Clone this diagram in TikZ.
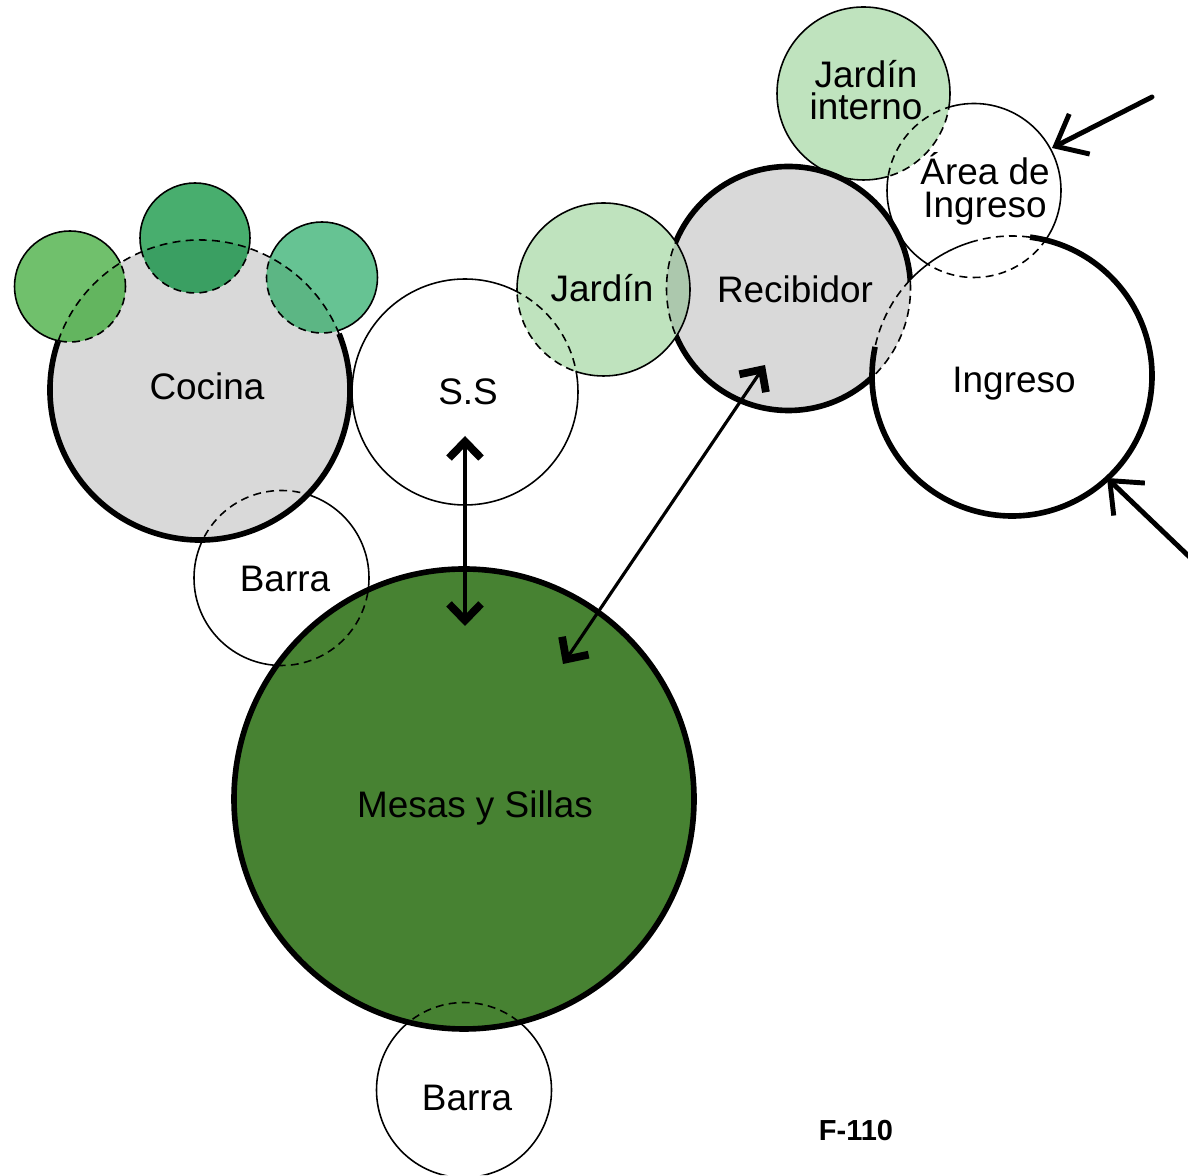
\documentclass[tikz,border=0pt]{standalone}
\usepackage{fontspec}
\setmainfont{Liberation Sans}
\usepackage{tikz}
\usetikzlibrary{arrows.meta}
\usepackage{xcolor}
\definecolor{mesagreen}{RGB}{71,130,50}
\definecolor{lightgreen}{RGB}{191,227,190}
\definecolor{lensgreen}{RGB}{172,200,173}
\definecolor{vleft}{RGB}{112,192,108}
\definecolor{vleftd}{RGB}{99,181,95}
\definecolor{vmid}{RGB}{72,174,110}
\definecolor{vmidd}{RGB}{58,159,98}
\definecolor{vright}{RGB}{102,195,147}
\definecolor{vrightd}{RGB}{92,182,132}
% marco recorrido en sentido horario, para recortar por fuera de los circulos
\newcommand{\outframe}{(0,0) -- (0,23.5) -- (23.76,23.5) -- (23.76,0) -- cycle}

\begin{document}
\begin{tikzpicture}[>={Straight Barb[length=3.3mm,width=6.4mm,line width=4.4pt 0]},
  thickline/.style={line width=3.2pt},
  thinline/.style={line width=0.9pt},
  dashline/.style={line width=0.9pt,dash pattern=on 4.5pt off 3pt},
  lbl/.style={font=\fontsize{21}{18.5}\selectfont,align=center,inner sep=0pt},
  dblarrow/.style={line width=1.8pt,<->},
  inarrow/.style={line width=2.8pt,line cap=round,-{Straight Barb[length=5.4mm,width=9mm]}}]
\useasboundingbox (0,0) rectangle (23.76,23.5);
\coordinate (cocina) at (4.00,15.70);
\coordinate (vergeL) at (1.40,17.77);
\coordinate (vergeM) at (3.90,18.74);
\coordinate (vergeR) at (6.44,17.95);
\coordinate (ss) at (9.30,15.66);
\coordinate (jardin) at (12.07,17.71);
\coordinate (recib) at (15.77,17.73);
\coordinate (jint) at (17.27,21.63);
\coordinate (area) at (19.48,19.69);
\coordinate (ingreso) at (20.24,15.98);
\coordinate (barraA) at (5.63,11.94);
\coordinate (mesas) at (9.28,7.52);
\coordinate (barraB) at (9.28,1.70);
% rellenos
\fill[black!15] (cocina) circle (3.00);
\fill[vleft] (vergeL) circle (1.11);
\fill[vmid] (vergeM) circle (1.10);
\fill[vright] (vergeR) circle (1.11);
\begin{scope}
\clip (cocina) circle (3.00);
\fill[vleftd] (vergeL) circle (1.11);
\fill[vmidd] (vergeM) circle (1.10);
\fill[vrightd] (vergeR) circle (1.11);
\end{scope}
\fill[mesagreen] (mesas) circle (4.60);
\fill[lightgreen] (jardin) circle (1.73);
\fill[black!15] (recib) circle (2.44);
\begin{scope}
\clip (jardin) circle (1.73);
\fill[lensgreen] (recib) circle (2.44);
\end{scope}
\fill[lightgreen] (jint) circle (1.73);
% bordes
\draw[thickline] (cocina) ++(161:3) arc[start angle=161,end angle=382,radius=3];
\draw[dashline] (cocina) ++(22:3) arc[start angle=22,end angle=161,radius=3];
\begin{scope}
\clip (cocina) circle (3.00);
\draw[dashline] (vergeL) circle (1.11) (vergeM) circle (1.10) (vergeR) circle (1.11) (barraA) circle (1.75);
\end{scope}
\begin{scope}
\clip (mesas) circle (4.60);
\draw[dashline] (barraA) circle (1.75) (barraB) circle (1.75);
\end{scope}
\begin{scope}
\clip \outframe (cocina) circle (3.00) (mesas) circle (4.60);
\draw[thinline] (vergeL) circle (1.11) (vergeM) circle (1.10) (vergeR) circle (1.11) (barraA) circle (1.75) (barraB) circle (1.75);
\end{scope}
\draw[thickline] (mesas) circle (4.60);
\begin{scope}
\clip (jardin) circle (1.73);
\draw[dashline] (ss) circle (2.26);
\end{scope}
\begin{scope}
\clip (ss) circle (2.26);
\draw[dashline] (jardin) circle (1.73);
\end{scope}
\begin{scope}
\clip \outframe (jardin) circle (1.73);
\draw[thinline] (ss) circle (2.26);
\end{scope}
\begin{scope}
\clip \outframe (ss) circle (2.26);
\draw[thinline] (jardin) circle (1.73);
\end{scope}
\begin{scope}
\clip (jardin) circle (1.73) (ingreso) circle (2.80);
\draw[dashline] (recib) circle (2.44);
\end{scope}
\begin{scope}
\clip \outframe (jardin) circle (1.73) (ingreso) circle (2.80);
\draw[thickline] (recib) circle (2.44);
\end{scope}
\begin{scope}
\clip (area) circle (1.74);
\draw[dashline] (jint) circle (1.73);
\end{scope}
\begin{scope}
\clip (jint) circle (1.73) (ingreso) circle (2.80);
\draw[dashline] (area) circle (1.74);
\end{scope}
\begin{scope}
\clip \outframe (area) circle (1.74);
\draw[thinline] (jint) circle (1.73);
\end{scope}
\begin{scope}
\clip \outframe (jint) circle (1.73) (ingreso) circle (2.80);
\draw[thinline] (area) circle (1.74);
\end{scope}
\draw[thickline] (ingreso) ++(82.6:2.8) arc[start angle=82.6,end angle=-192,radius=2.8];
\draw[dashline] (ingreso) ++(82.6:2.8) arc[start angle=82.6,end angle=105,radius=2.8];
\draw[thinline] (ingreso) ++(105:2.8) arc[start angle=105,end angle=137,radius=2.8];
\draw[dashline] (ingreso) ++(137:2.8) arc[start angle=137,end angle=168,radius=2.8];
% textos
\node[lbl] (cocina-t) at (4.14,15.78) {Cocina};
\node[lbl] (ss-t) at (9.36,15.66) {S.S};
\node[lbl] (jardin-t) at (12.04,17.74) {Jardín};
\node[lbl] (recib-t) at (15.90,17.72) {Recibidor};
\node[lbl] (jint-t) at (17.32,21.70) {Jardín\\interno};
\node[lbl] (area-t) at (19.70,19.72) {Área de\\Ingreso};
\node[lbl] (ingreso-t) at (20.28,15.82) {Ingreso};
\node[lbl] (barraA-t) at (5.70,11.92) {Barra};
\node[lbl] (mesas-t) at (9.50,7.34) {Mesas y Sillas};
\node[lbl] (barraB-t) at (9.34,1.54) {Barra};
\node[font=\fontsize{16.5}{18}\selectfont\bfseries] (codigo) at (17.12,0.88) {F-110};
% flechas
\coordinate (ss-a) at (9.30,14.78);
\coordinate (mesas-a) at (9.30,10.98);
\coordinate (recib-a) at (15.30,16.20);
\coordinate (mesas-b) at (11.26,10.22);
\coordinate (area-in) at (23.04,21.56);
\coordinate (area-e) at (21.04,20.54);
\coordinate (ingreso-in) at (24.00,12.16);
\coordinate (ingreso-e) at (22.14,13.94);
\draw[dblarrow] (ss-a) -- (mesas-a);
\draw[dblarrow] (recib-a) -- (mesas-b);
\draw[inarrow] (area-in) -- (area-e);
\draw[inarrow] (ingreso-in) -- (ingreso-e);
\end{tikzpicture}
\end{document}
